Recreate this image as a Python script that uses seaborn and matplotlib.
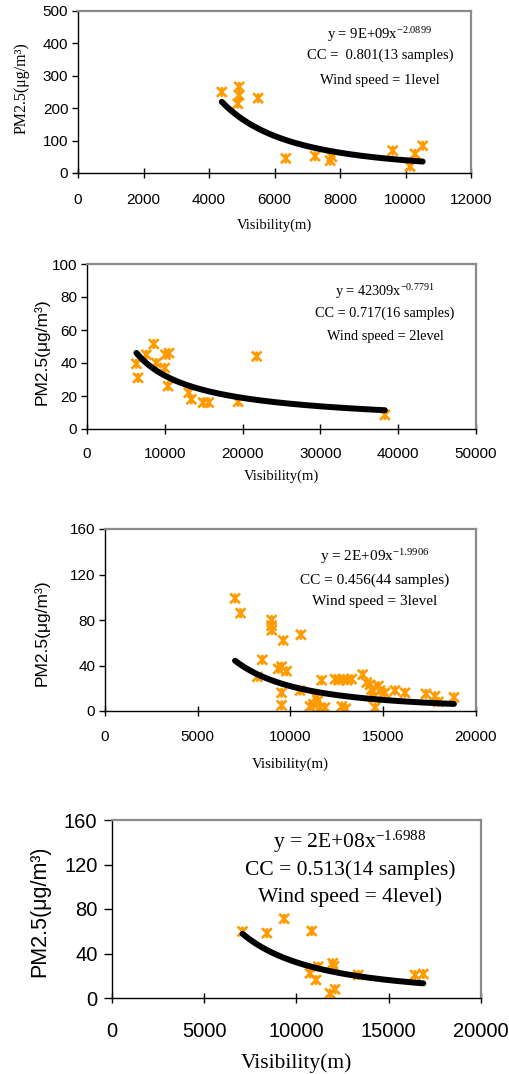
import numpy as np
import pandas as pd
import matplotlib
matplotlib.use("Agg")
import matplotlib.pyplot as plt
import seaborn as sns
from matplotlib.path import Path

# ---------------- data ----------------
vis_ws1 = [4390, 4920, 4920, 4880, 5500, 6345, 7240, 7700, 7750, 9610, 10140, 10290, 10525]
pm_ws1 = [250, 266, 240, 214, 231, 45, 52, 38, 50, 69, 20, 59, 84]

vis_ws2 = [6350, 6560, 7630, 8580, 8920, 10080, 10550, 9990, 10420, 13080, 13420, 14920,
           15650, 19430, 21810, 38290]
pm_ws2 = [39.5, 31, 45, 51.5, 40, 45, 46, 37, 26, 22, 18, 16, 16, 16.5, 44, 8.5]

vis_ws3 = [7010, 7310, 8210, 8480, 8980, 8980, 8990, 9340, 9520, 9790, 9520, 9520, 9610,
           10560, 10510, 11050, 11230, 11380, 11470, 11680, 11590, 11860, 12400, 12850,
           12760, 12980, 13060, 13300, 13890, 14110, 14290, 14370, 14460, 14740, 14560,
           14830, 15090, 15630, 16170, 17300, 17790, 17970, 18810, 12600]
pm_ws3 = [99, 86, 30, 45, 80, 75, 71, 37, 39, 35, 16, 5, 62, 67, 18, 4, 6, 12, 9, 27, 3, 3,
          28, 28, 4, 2, 27, 28, 32, 25, 23, 19, 12, 22, 3, 18, 16, 18, 16, 15, 13, 8, 12, 27]

vis_ws4 = [7076, 8394, 9332, 10824, 10732, 11057, 11182, 11816, 12087, 11962, 12030, 13350,
           16423, 16873]
pm_ws4 = [59.8, 58.3, 71.2, 60.2, 22.2, 16.2, 28.1, 4.2, 7.8, 31.2, 28.5, 20.7, 20.7, 21.6]

# fitted power-law trend lines (y = a * x^b), as printed on the chart
fit_a = [9e9, 42309, 2e9, 2e8]
fit_b = [-2.0899, -0.7791, -1.9906, -1.6988]

eq_labels = ["y = 9E+09x$^{-2.0899}$", "y = 42309x$^{-0.7791}$",
             "y = 2E+09x$^{-1.9906}$", "y = 2E+08x$^{-1.6988}$"]
cc_labels = ["CC =  0.801(13 samples)", "CC = 0.717(16 samples)",
             "CC = 0.456(44 samples)", "CC = 0.513(14 samples)"]
ws_labels = ["Wind speed = 1level", "Wind speed = 2level",
             "Wind speed = 3level", "Wind speed = 4level)"]

x_ticks = [list(range(0, 12001, 2000)), list(range(0, 50001, 10000)),
           list(range(0, 20001, 5000)), list(range(0, 20001, 5000))]
y_ticks = [list(range(0, 501, 100)), list(range(0, 101, 20)),
           list(range(0, 161, 40)), list(range(0, 161, 40))]

x_label = "Visibility(m)"
y_label = "PM2.5(\u03bcg/m\u00b3)"

# ---------------- style ----------------
sns.set_theme(style="white")
plt.rcParams["font.family"] = ["Liberation Sans", "DejaVu Sans"]
plt.rcParams["mathtext.fontset"] = "custom"
plt.rcParams["mathtext.rm"] = "Liberation Serif"
plt.rcParams["mathtext.it"] = "Liberation Serif:italic"
plt.rcParams["mathtext.bf"] = "Liberation Serif:bold"
plt.rcParams["mathtext.default"] = "rm"

ORANGE = "#FF9A00"
SERIF = ["Liberation Serif", "DejaVu Serif"]
SANS = ["Liberation Sans", "DejaVu Sans"]

# asterisk-like marker (x with vertical bar)
star_path = Path(
    [(-1, -1), (1, 1), (-1, 1), (1, -1), (0, -1), (0, 1)],
    [Path.MOVETO, Path.LINETO, Path.MOVETO, Path.LINETO, Path.MOVETO, Path.LINETO],
)

fig = plt.figure(figsize=(5.10, 10.74), dpi=100)

rects = [
    (78 / 510, 901 / 1074, 393 / 510, 162 / 1074),
    (87 / 510, 645 / 1074, 389 / 510, 165 / 1074),
    (105 / 510, 363 / 1074, 371 / 510, 182 / 1074),
    (112 / 510, 76 / 1074, 369 / 510, 178 / 1074),
]
tick_fs = [11, 11, 11, 14.5]
xlab_fs = [10.5, 10.5, 10.8, 15.5]
ylab_fs = [11.5, 12.5, 12.5, 15.5]
ylab_family = [SERIF, SANS, SANS, SANS]
ann_fs = [10.5, 10.3, 11, 15.5]
ann_x = [0.768, 0.766, 0.728, 0.645]
ann_y = [(0.855, 0.728, 0.574), (0.832, 0.701, 0.559),
         (0.848, 0.720, 0.601), (0.878, 0.719, 0.569)]
xlab_y = [-0.278, -0.248, -0.253, -0.309]
ylab_pos = [(-0.122, 0.525), (-0.095, 0.468), (-0.150, 0.43), (-0.166, 0.485)]
xpad = [11, 9.5, 10.5, 13.5]
ypad = [3, 3, 3, 5]
ytick_len = [4, 4, 4, 5.5]
marker_s = [50, 50, 50, 50]

vis_all = [vis_ws1, vis_ws2, vis_ws3, vis_ws4]
pm_all = [pm_ws1, pm_ws2, pm_ws3, pm_ws4]

for i in range(4):
    ax = fig.add_axes(rects[i])
    df = pd.DataFrame({"vis": vis_all[i], "pm": pm_all[i]})

    sns.scatterplot(data=df, x="vis", y="pm", ax=ax, marker=star_path, s=marker_s[i],
                    color=ORANGE, edgecolor=ORANGE, facecolor="none",
                    linewidth=1.9, zorder=2)

    xs = np.linspace(min(vis_all[i]), max(vis_all[i]), 200)
    curve = pd.DataFrame({"vis": xs, "pm": fit_a[i] * xs ** fit_b[i]})
    sns.lineplot(data=curve, x="vis", y="pm", ax=ax, color="black", linewidth=4.3,
                 solid_capstyle="round", zorder=3)

    ax.set_xlim(x_ticks[i][0], x_ticks[i][-1])
    ax.set_ylim(y_ticks[i][0], y_ticks[i][-1])
    ax.set_xticks(x_ticks[i])
    ax.set_yticks(y_ticks[i])
    ax.set_xticklabels([str(v) for v in x_ticks[i]], fontsize=tick_fs[i], family=SANS)
    ax.set_yticklabels([str(v) for v in y_ticks[i]], fontsize=tick_fs[i], family=SANS)

    ax.tick_params(axis="x", direction="inout", length=7, width=1, color="black",
                   pad=xpad[i], labelcolor="black", bottom=True)
    ax.tick_params(axis="y", direction="out", length=ytick_len[i], width=1,
                   color="black", pad=ypad[i], labelcolor="black", left=True)

    for side in ["left", "bottom"]:
        ax.spines[side].set_color("black")
        ax.spines[side].set_linewidth(1.0)
    for side in ["top", "right"]:
        ax.spines[side].set_color("#8a8a8a")
        ax.spines[side].set_linewidth(1.6)
        ax.spines[side].set_visible(True)

    ax.set_xlabel(x_label, fontsize=xlab_fs[i], family=SERIF, color="black")
    ax.xaxis.set_label_coords(0.5, xlab_y[i])
    ax.set_ylabel(y_label, fontsize=ylab_fs[i], family=ylab_family[i], color="black")
    ax.yaxis.set_label_coords(*ylab_pos[i])

    for txt, yy in zip([eq_labels[i], cc_labels[i], ws_labels[i]], ann_y[i]):
        ax.text(ann_x[i], yy, txt, transform=ax.transAxes, ha="center", va="center",
                fontsize=ann_fs[i], family=SERIF, color="black")

fig.savefig("out.png", dpi=100)
